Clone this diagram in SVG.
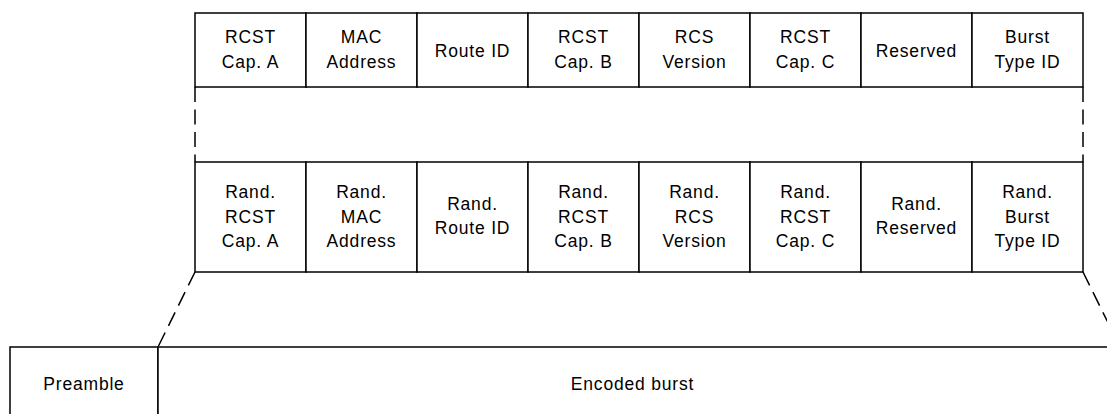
<svg xmlns="http://www.w3.org/2000/svg" width="1107" height="414" viewBox="0 0 1107 414">
<style>
.box{fill:#fff;stroke:#000;stroke-width:1.5}
.dash{fill:none;stroke:#000;stroke-width:1.5;stroke-dasharray:15,7.5}
text{font-family:"Liberation Sans",Arial,sans-serif;font-size:17.5px;letter-spacing:0.8px;text-anchor:middle;fill:#000}
</style>
<rect width="1107" height="414" fill="#fff"/>
<g id="connectors">
<line class="dash" x1="195" y1="87" x2="195" y2="162"/>
<line class="dash" x1="1083" y1="87" x2="1083" y2="162"/>
<line class="dash" x1="195" y1="272" x2="158" y2="347"/>
<line class="dash" x1="1083" y1="272" x2="1120" y2="347"/>
</g>
<g id="top-row">
<g id="t1"><rect class="box" x="195" y="13" width="111" height="74"/><text x="250.5" y="42.5">RCST</text><text x="250.5" y="68">Cap. A</text></g>
<g id="t2"><rect class="box" x="306" y="13" width="111" height="74"/><text x="361.5" y="42.5">MAC</text><text x="361.5" y="68">Address</text></g>
<g id="t3"><rect class="box" x="417" y="13" width="111" height="74"/><text x="472.5" y="56.5">Route ID</text></g>
<g id="t4"><rect class="box" x="528" y="13" width="111" height="74"/><text x="583.5" y="42.5">RCST</text><text x="583.5" y="68">Cap. B</text></g>
<g id="t5"><rect class="box" x="639" y="13" width="111" height="74"/><text x="694.5" y="42.5">RCS</text><text x="694.5" y="68">Version</text></g>
<g id="t6"><rect class="box" x="750" y="13" width="111" height="74"/><text x="805.5" y="42.5">RCST</text><text x="805.5" y="68">Cap. C</text></g>
<g id="t7"><rect class="box" x="861" y="13" width="111" height="74"/><text x="916.5" y="56.5">Reserved</text></g>
<g id="t8"><rect class="box" x="972" y="13" width="111" height="74"/><text x="1027.5" y="42.5">Burst</text><text x="1027.5" y="68">Type ID</text></g>
</g>
<g id="mid-row">
<g id="m1"><rect class="box" x="195" y="162" width="111" height="110"/><text x="250.5" y="198">Rand.</text><text x="250.5" y="222.5">RCST</text><text x="250.5" y="247">Cap. A</text></g>
<g id="m2"><rect class="box" x="306" y="162" width="111" height="110"/><text x="361.5" y="198">Rand.</text><text x="361.5" y="222.5">MAC</text><text x="361.5" y="247">Address</text></g>
<g id="m3"><rect class="box" x="417" y="162" width="111" height="110"/><text x="472.5" y="209.5">Rand.</text><text x="472.5" y="234">Route ID</text></g>
<g id="m4"><rect class="box" x="528" y="162" width="111" height="110"/><text x="583.5" y="198">Rand.</text><text x="583.5" y="222.5">RCST</text><text x="583.5" y="247">Cap. B</text></g>
<g id="m5"><rect class="box" x="639" y="162" width="111" height="110"/><text x="694.5" y="198">Rand.</text><text x="694.5" y="222.5">RCS</text><text x="694.5" y="247">Version</text></g>
<g id="m6"><rect class="box" x="750" y="162" width="111" height="110"/><text x="805.5" y="198">Rand.</text><text x="805.5" y="222.5">RCST</text><text x="805.5" y="247">Cap. C</text></g>
<g id="m7"><rect class="box" x="861" y="162" width="111" height="110"/><text x="916.5" y="209.5">Rand.</text><text x="916.5" y="234">Reserved</text></g>
<g id="m8"><rect class="box" x="972" y="162" width="111" height="110"/><text x="1027.5" y="198">Rand.</text><text x="1027.5" y="222.5">Burst</text><text x="1027.5" y="247">Type ID</text></g>
</g>
<g id="bottom-row">
<g id="preamble"><rect class="box" x="10" y="347" width="148" height="90"/><text x="84" y="390">Preamble</text></g>
<g id="encoded"><rect class="box" x="158" y="347" width="970" height="90"/><text x="632.5" y="389.5">Encoded burst</text></g>
</g>
</svg>
